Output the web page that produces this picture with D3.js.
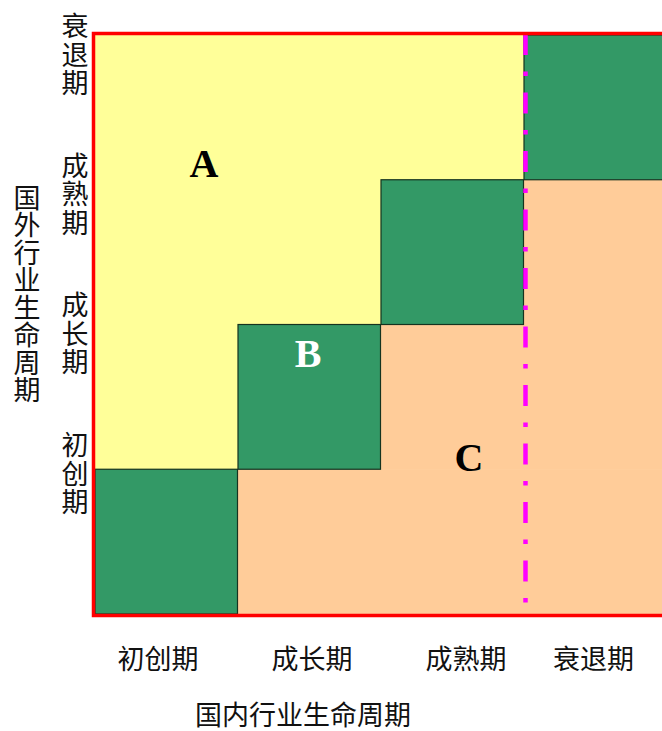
<!DOCTYPE html>
<html>
<head>
<meta charset="utf-8">
<script src="https://cdn.jsdelivr.net/npm/d3@7/dist/d3.min.js"></script>
<style>
  html, body { margin: 0; padding: 0; background: #fff; overflow: hidden; }
  svg { display: block; }
</style>
</head>
<body>
<svg id="chart" width="662" height="731"></svg>
<script>
// ---- data ----
const stages = ["初创期", "成长期", "成熟期", "衰退期"];          // tick labels, both axes
const xTitle = "国内行业生命周期";
const yTitle = "国外行业生命周期";
const zoneLabels = ["A", "B", "C"];
const zoneCols = ["初创期", "成长期", "成熟期"];                    // anchor cell column per label
const zoneRows = ["衰退期", "成长期", "成长期"];                    // anchor cell row per label
const dividerStage = "衰退期";

// ---- layout ----
const plot = { x0: 95, x1: 667, y0: 35, y1: 614 };
const colors = { upper: "#FFFF99", lower: "#FFCC99", diag: "#339966", frame: "#FF0000", divider: "#FF00FF" };
const cjk = "'Noto Sans CJK SC','Noto Sans CJK JP',sans-serif";
const zoneOffsets = [[37.5, 70], [-1.5, -30], [16.5, 74]];          // label offset from anchor cell centre

const svg = d3.select("#chart");

const x = d3.scaleBand().domain(stages).range([plot.x0, plot.x1]);
const y = d3.scaleBand().domain(stages).range([plot.y1, plot.y0]);

// tick label scales (labels are not exactly centred on cells in the reference)
const xLab = d3.scalePoint().domain(stages.slice(0, 3)).range([158, 466]);
const yLab = d3.scalePoint().domain(stages).range([474, 55]);

const cells = [];
stages.forEach((cs, ci) => stages.forEach((rs, ri) => cells.push({ cs, rs, ci, ri })));

// background cells (no stroke)
svg.append("g").selectAll("rect").data(cells.filter(d => d.ci !== d.ri)).join("rect")
  .attr("x", d => x(d.cs)).attr("y", d => y(d.rs))
  .attr("width", x.bandwidth() + 0.6).attr("height", y.bandwidth() + 0.6)
  .attr("fill", d => d.ri > d.ci ? colors.upper : colors.lower);

// diagonal green cells
svg.append("g").selectAll("rect").data(cells.filter(d => d.ci === d.ri)).join("rect")
  .attr("x", d => x(d.cs)).attr("y", d => y(d.rs))
  .attr("width", x.bandwidth() - 0.5).attr("height", y.bandwidth())
  .attr("fill", colors.diag).attr("stroke", "#15331f").attr("stroke-width", 1.2);

// divider line
const dx = x(dividerStage) + 1.5;
svg.append("line")
  .attr("x1", dx).attr("x2", dx)
  .attr("y1", plot.y0 - 1).attr("y2", plot.y1 - 9)
  .attr("stroke", colors.divider).attr("stroke-width", 4.5)
  .attr("stroke-dasharray", "21,16.5,4.5,16.5");

// frame
svg.append("rect")
  .attr("x", plot.x0 - 1.5).attr("y", plot.y0 - 1.5)
  .attr("width", plot.x1 - plot.x0 + 3).attr("height", plot.y1 - plot.y0 + 3)
  .attr("fill", "none").attr("stroke", colors.frame).attr("stroke-width", 3.5);

// zone labels
svg.append("g").selectAll("text").data(zoneLabels).join("text")
  .attr("x", (d, i) => x(zoneCols[i]) + x.bandwidth() / 2 + zoneOffsets[i][0])
  .attr("y", (d, i) => y(zoneRows[i]) + y.bandwidth() / 2 + zoneOffsets[i][1])
  .attr("text-anchor", "middle")
  .attr("font-family", "'Liberation Serif','Times New Roman',serif")
  .attr("font-weight", "bold").attr("font-size", 40)
  .attr("fill", (d, i) => i === 1 ? "#fff" : "#000")
  .text(d => d);

// x tick labels
const xPos = s => (stages.indexOf(s) < 3 ? xLab(s) : x(s) + x.bandwidth() / 2 - 2);
svg.append("g").selectAll("text").data(stages).join("text")
  .attr("x", d => xPos(d)).attr("y", 657)
  .attr("text-anchor", "middle").attr("dominant-baseline", "central")
  .attr("font-family", cjk).attr("font-size", 27).attr("fill", "#111")
  .text(d => d);

// y tick labels (vertical)
svg.append("g").selectAll("text").data(stages).join("text")
  .attr("x", 75).attr("y", d => yLab(d))
  .attr("text-anchor", "middle")
  .style("writing-mode", "vertical-rl").style("text-orientation", "upright")
  .style("letter-spacing", "1.5px")
  .attr("font-family", cjk).attr("font-size", 27).attr("fill", "#111")
  .text(d => d);

// y title (vertical)
svg.append("text")
  .attr("x", 27).attr("y", 294)
  .attr("text-anchor", "middle")
  .style("writing-mode", "vertical-rl").style("text-orientation", "upright")
  .style("letter-spacing", "0.5px")
  .attr("font-family", cjk).attr("font-size", 27).attr("fill", "#111")
  .text(yTitle);

// x title
svg.append("text")
  .attr("x", 303).attr("y", 713)
  .attr("text-anchor", "middle").attr("dominant-baseline", "central")
  .attr("font-family", cjk).attr("font-size", 27).attr("fill", "#111")
  .text(xTitle);
</script>
</body>
</html>
